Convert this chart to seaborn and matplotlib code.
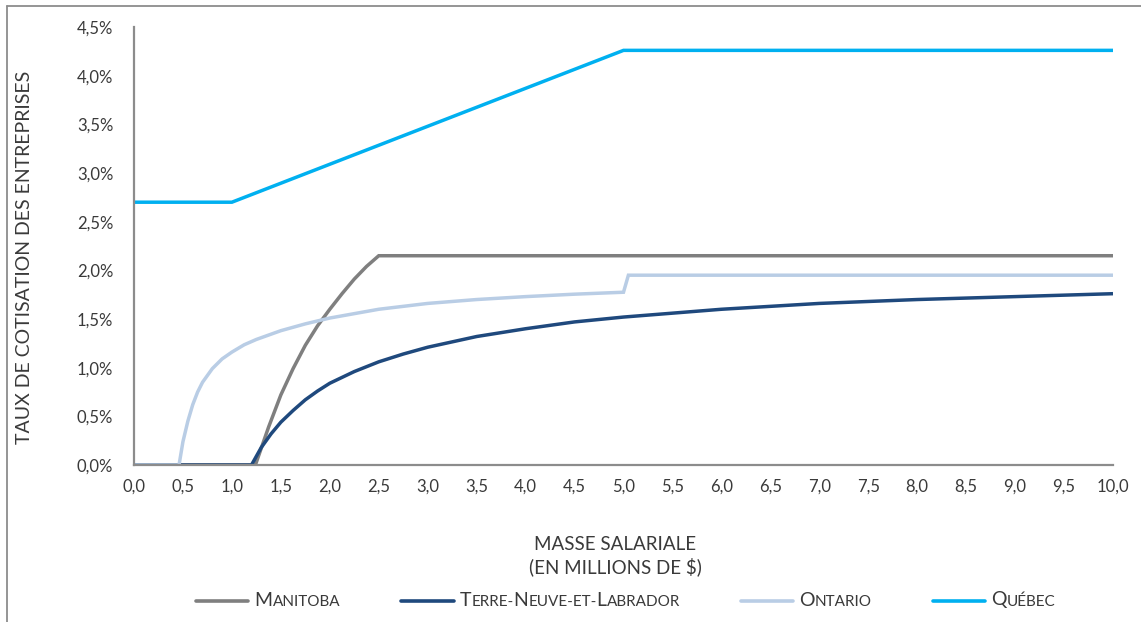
import numpy as np
import pandas as pd
import matplotlib
matplotlib.use("Agg")
import matplotlib.pyplot as plt
import seaborn as sns
from matplotlib.lines import Line2D
from matplotlib.offsetbox import HPacker, TextArea, DrawingArea, AnchoredOffsetbox

# ---- data (payroll in millions $, rate in %) ----
series_names = ["Manitoba", "Terre-Neuve-et-Labrador", "Ontario", "Québec"]
# legend labels in small caps: (text, is_capital) segments
legend_segments = [
    [("M", True), ("ANITOBA", False)],
    [("T", True), ("ERRE-", False), ("N", True), ("EUVE-ET-", False), ("L", True), ("ABRADOR", False)],
    [("O", True), ("NTARIO", False)],
    [("Q", True), ("UÉBEC", False)],
]

manitoba_x = [0.0, 1.24, 1.375, 1.5, 1.625, 1.75, 1.875, 2.0, 2.125, 2.25, 2.375, 2.5, 10.0]
manitoba_y = [0.0, 0.0, 0.39, 0.72, 0.99, 1.23, 1.43, 1.60, 1.76, 1.91, 2.04, 2.15, 2.15]

tnl_x = [0.0, 1.2, 1.3, 1.4, 1.5, 1.625, 1.75, 1.875, 2.0, 2.25, 2.5, 2.75, 3.0, 3.5, 4.0, 4.5, 5.0, 6.0, 7.0, 8.0, 9.0, 10.0]
tnl_y = [0.0, 0.0, 0.18, 0.32, 0.44, 0.56, 0.67, 0.76, 0.84, 0.96, 1.06, 1.14, 1.21, 1.32, 1.40, 1.47, 1.52, 1.60, 1.66, 1.70, 1.73, 1.76]

ontario_x = [0.0, 0.46, 0.5, 0.55, 0.6, 0.65, 0.7, 0.8, 0.9, 1.0, 1.125, 1.25, 1.5, 1.75, 2.0, 2.5, 3.0, 3.5, 4.0, 4.5, 5.0, 5.05, 10.0]
ontario_y = [0.0, 0.0, 0.24, 0.45, 0.62, 0.75, 0.85, 0.99, 1.09, 1.16, 1.235, 1.29, 1.38, 1.45, 1.51, 1.60, 1.66, 1.70, 1.73, 1.755, 1.775, 1.95, 1.95]

quebec_x = [0.0, 1.0, 5.0, 10.0]
quebec_y = [2.70, 2.70, 4.26, 4.26]

x_ticks = [i * 0.5 for i in range(21)]
y_ticks = [i * 0.5 for i in range(10)]
x_tick_labels = [f"{v:.1f}".replace(".", ",") for v in x_ticks]
y_tick_labels = [f"{v:.1f}%".replace(".", ",") for v in y_ticks]

colors = ["#7f7f7f", "#1f497d", "#b9cde5", "#00b0f0"]
text_color = "#3a3a3a"

frames = []
for name, xs, ys in zip(series_names,
                        [manitoba_x, tnl_x, ontario_x, quebec_x],
                        [manitoba_y, tnl_y, ontario_y, quebec_y]):
    frames.append(pd.DataFrame({"x": xs, "y": ys, "serie": name}))
df = pd.concat(frames, ignore_index=True)

sns.set_theme(style="white")
plt.rcParams["font.family"] = ["Lato", "DejaVu Sans"]

fig = plt.figure(figsize=(11.41, 6.22), dpi=100)
ax = fig.add_axes([134 / 1141, 1 - 465 / 622, (1113 - 134) / 1141, (465 - 27) / 622])

sns.lineplot(data=df, x="x", y="y", hue="serie", palette=dict(zip(series_names, colors)),
             hue_order=series_names, linewidth=2.5, legend=False, ax=ax,
             estimator=None, sort=False)
for ln in ax.get_lines():
    ln.set_solid_capstyle("butt")
    ln.set_solid_joinstyle("miter")

ax.set_xlim(0, 10)
ax.set_ylim(0, 4.5)
ax.set_xticks(x_ticks)
ax.set_xticklabels(x_tick_labels)
ax.set_yticks(y_ticks)
ax.set_yticklabels(y_tick_labels)
ax.tick_params(axis="both", length=0, labelsize=12, labelcolor=text_color)
ax.tick_params(axis="x", pad=10)
ax.tick_params(axis="y", pad=15)

for s in ["top", "right"]:
    ax.spines[s].set_visible(False)
for s in ["left", "bottom"]:
    ax.spines[s].set_color("#8c8c8c")
    ax.spines[s].set_linewidth(1.6)

ax.set_xlabel("MASSE SALARIALE\n(EN MILLIONS DE $)", fontsize=13.5, color=text_color,
              linespacing=1.3)
ax.xaxis.set_label_coords((615 - 134) / 979, -(556 - 465) / 438)
ax.xaxis.label.set_va("center")
ax.set_ylabel("TAUX DE COTISATION DES ENTREPRISES", fontsize=14, color=text_color)
ax.yaxis.set_label_coords(-(134 - 25) / 979, (465 - 257) / 438)
ax.yaxis.label.set_va("center")

# legend with small caps (sizes in points; 1px = 0.72pt at 100 dpi)
entries = []
for c, segs in zip(colors, legend_segments):
    da = DrawingArea(37.5, 8, 0, 0)
    da.add_artist(Line2D([0, 37.5], [3.5, 3.5], color=c, linewidth=2.6, solid_capstyle="round"))
    parts = [TextArea(t, textprops=dict(fontsize=14 if cap else 11, color=text_color))
             for t, cap in segs]
    label = HPacker(children=parts, align="baseline", pad=0, sep=0)
    entries.append(HPacker(children=[da, label], align="center", pad=0, sep=4.5))
box = HPacker(children=entries, align="center", pad=0, sep=44)
anch = AnchoredOffsetbox(loc="center", child=box, frameon=False, pad=0, borderpad=0,
                         bbox_to_anchor=(626 / 1141, 1 - 600 / 622), bbox_transform=fig.transFigure)
fig.add_artist(anch)

# figure border (top and left)
fig.add_artist(Line2D([7 / 1141, 1.0], [1 - 6 / 622, 1 - 6 / 622], transform=fig.transFigure,
                      color="#8c8c8c", linewidth=1.3))
fig.add_artist(Line2D([7 / 1141, 7 / 1141], [0, 1 - 6 / 622], transform=fig.transFigure,
                      color="#8c8c8c", linewidth=1.3))

fig.savefig("out.png", dpi=100)
